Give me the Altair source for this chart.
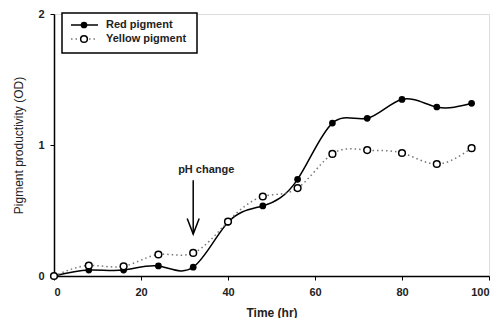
import altair as alt
import pandas as pd

time = [0, 8, 16, 24, 32, 40, 48, 56, 64, 72, 80, 88, 96]
red = [0.0, 0.045, 0.045, 0.077, 0.067, 0.41, 0.535, 0.738, 1.167, 1.204, 1.348, 1.29, 1.318]
yellow = [0.0, 0.08, 0.074, 0.164, 0.176, 0.416, 0.607, 0.671, 0.932, 0.961, 0.939, 0.855, 0.976]

annot_x = [32]
arrow_top = [0.73]
arrow_tip = [0.32]
label_x = [35]
label_y = [0.81]
label_text = ["pH change"]

legend_names = ["Red pigment", "Yellow pigment"]

FONT = "Liberation Sans"

df_red = pd.DataFrame({"t": time, "v": red})
df_yel = pd.DataFrame({"t": time, "v": yellow})
df_arrow = pd.DataFrame({"t": annot_x, "top": arrow_top, "tip": arrow_tip})
df_label = pd.DataFrame({"t": label_x, "v": label_y, "txt": label_text})

xs = alt.Scale(domain=[0, 100], nice=False)
ys = alt.Scale(domain=[0, 2], nice=False)

xax = alt.Axis(values=[0, 20, 40, 60, 80, 100], title="Time (hr)", grid=False, format="d",
               labelFont=FONT, labelFontSize=11, labelFontWeight="bold", labelColor="#222",
               titleFont=FONT, titleFontSize=12, titleFontWeight="bold", titleColor="#222",
               domainColor="black", domainWidth=1.5, tickColor="black", tickSize=4,
               labelPadding=6, titlePadding=10, labelOverlap=False)
yax = alt.Axis(values=[0, 1, 2], title="Pigment productivity (OD)", grid=False,
               labelExpr="format(datum.value, 'd')", labelOverlap=False, labelFlush=False,
               labelFont=FONT, labelFontSize=11, labelFontWeight="bold", labelColor="#222",
               titleFont=FONT, titleFontSize=12, titleFontWeight="normal", titleColor="#222",
               domainColor="black", domainWidth=1.5, tickColor="black", tickSize=4,
               labelPadding=6, titlePadding=12)

red_line = alt.Chart(df_red).mark_line(color="black", strokeWidth=1.5, interpolate="natural").encode(
    x=alt.X("t:Q", scale=xs, axis=xax), y=alt.Y("v:Q", scale=ys, axis=yax))
red_pts = alt.Chart(df_red).mark_point(filled=True, color="black", size=45, opacity=1).encode(
    x=alt.X("t:Q", scale=xs), y=alt.Y("v:Q", scale=ys))
yel_line = alt.Chart(df_yel).mark_line(color="#777", strokeWidth=1.5, strokeDash=[1.5, 3],
                                       interpolate="natural").encode(
    x=alt.X("t:Q", scale=xs), y=alt.Y("v:Q", scale=ys))
yel_pts = alt.Chart(df_yel).mark_point(filled=True, fill="white", stroke="black", strokeWidth=1.5,
                                       size=45, opacity=1).encode(
    x=alt.X("t:Q", scale=xs), y=alt.Y("v:Q", scale=ys))

arrow = alt.Chart(df_arrow).mark_rule(color="black", strokeWidth=1.5).encode(
    x=alt.X("t:Q", scale=xs), y=alt.Y("top:Q", scale=ys), y2="tip:Q")
head = alt.Chart(df_arrow).mark_point(shape="M -1 -2.6 L 0 0 L 1 -2.6", filled=False, color="black",
                                      strokeWidth=1.5, size=144, opacity=1).encode(
    x=alt.X("t:Q", scale=xs), y=alt.Y("tip:Q", scale=ys))
label = alt.Chart(df_label).mark_text(font=FONT, fontSize=11, fontWeight="bold", color="#222").encode(
    x=alt.X("t:Q", scale=xs), y=alt.Y("v:Q", scale=ys), text="txt:N")

# legend (drawn inside the plot, top-left)
one = pd.DataFrame({"a": [0]})
leg_box = alt.Chart(one).mark_rect(fill="white", stroke="black", strokeWidth=1.5).encode(
    x=alt.value(8), x2=alt.value(143), y=alt.value(-1), y2=alt.value(39))
leg_red_line = alt.Chart(one).mark_rule(color="black", strokeWidth=1.5).encode(
    x=alt.value(17), x2=alt.value(44), y=alt.value(11))
leg_yel_line = alt.Chart(one).mark_rule(color="#777", strokeWidth=1.5, strokeDash=[1.5, 3]).encode(
    x=alt.value(17), x2=alt.value(44), y=alt.value(25))
leg_red_pt = alt.Chart(one).mark_point(filled=True, color="black", size=45, opacity=1).encode(
    x=alt.value(30), y=alt.value(11))
leg_yel_pt = alt.Chart(one).mark_point(filled=True, fill="white", stroke="black",
                                       strokeWidth=1.5, size=45, opacity=1).encode(
    x=alt.value(30), y=alt.value(25))
leg_texts = [
    alt.Chart(pd.DataFrame({"name": [nm]})).mark_text(font=FONT, fontSize=11, fontWeight="bold", color="#222",
                                                    align="left", baseline="middle").encode(
        x=alt.value(52), y=alt.value(yy), text="name:N")
    for nm, yy in zip(legend_names, [11, 25])
]

chart = alt.layer(red_line, yel_line, red_pts, yel_pts, arrow, head, label,
                  leg_box, leg_red_line, leg_yel_line, leg_red_pt, leg_yel_pt, *leg_texts).properties(
    width=435, height=262,
    autosize=alt.AutoSizeParams(type="none"),
    padding={"left": 46, "top": 6, "right": 6, "bottom": 42},
).configure_view(stroke="black", strokeWidth=1.5).configure(background="white")

chart.save("out.html", embed_options={"renderer": "svg", "actions": False})
